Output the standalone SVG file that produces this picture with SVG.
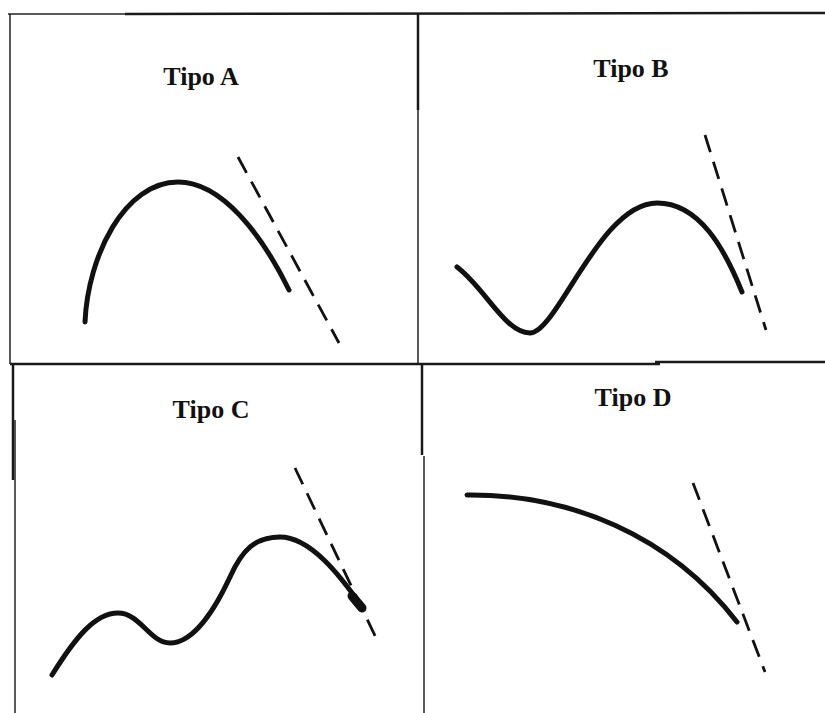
<svg xmlns="http://www.w3.org/2000/svg" width="825" height="713" viewBox="0 0 825 713">
<style>
.frame{stroke:#222;fill:none;stroke-width:1.5}
.thick{stroke:#1a1a1a;fill:none;stroke-width:2.5}
.curve{stroke:#111;fill:none;stroke-width:5;stroke-linecap:round;stroke-linejoin:round}
.tan{stroke:#111;fill:none;stroke-width:2.8;stroke-dasharray:18 10}
.lbl{font-family:"Liberation Serif","Times New Roman",serif;font-weight:bold;font-size:26px;fill:#111;text-anchor:middle}
</style>
<rect width="825" height="713" fill="#fff"/>
<g id="grid">
<line class="frame" x1="8" y1="14" x2="125" y2="14"/>
<line class="thick" x1="125" y1="14" x2="825" y2="13"/>
<line class="frame" x1="10" y1="14" x2="10" y2="364"/>
<line class="thick" x1="13" y1="364" x2="13" y2="480"/>
<line class="frame" x1="15" y1="420" x2="15" y2="713"/>
<line class="frame" x1="418" y1="14" x2="418" y2="364"/>
<line class="thick" x1="418" y1="14" x2="418" y2="110"/>
<line class="thick" x1="422" y1="364" x2="422" y2="455"/>
<line class="frame" x1="424" y1="456" x2="424" y2="713"/>
<line class="thick" x1="10" y1="364" x2="660" y2="364"/>
<line class="thick" x1="655" y1="362" x2="825" y2="362"/>
</g>
<g id="tipoA">
<text class="lbl" x="201" y="85">Tipo A</text>
<path class="curve" d="M85,322 C88,255 125,182 178,182 C222,182 262,235 289,290"/>
<line class="tan" x1="238" y1="157" x2="339" y2="343"/>
</g>
<g id="tipoB">
<text class="lbl" x="631" y="77">Tipo B</text>
<path class="curve" d="M457,267 C485,288 505,333 530,333 C557,333 600,203 657,203 C700,203 725,250 742,292"/>
<line class="tan" x1="705" y1="135" x2="766" y2="330"/>
</g>
<g id="tipoC">
<text class="lbl" x="211" y="418">Tipo C</text>
<path class="curve" d="M52,675 C75,638 95,613 118,613 C140,613 150,643 170,643 C195,643 217,605 230,577 C242,550 255,537 280,537 C310,537 340,575 362,607"/>
<line x1="352" y1="596" x2="362" y2="608" stroke="#111" stroke-width="9" stroke-linecap="round"/>
<line class="tan" x1="295" y1="468" x2="378" y2="642"/>
</g>
<g id="tipoD">
<text class="lbl" x="633" y="406">Tipo D</text>
<path class="curve" d="M467,495 C570,494 670,535 737,622"/>
<line class="tan" x1="693" y1="483" x2="765" y2="672"/>
</g>
</svg>
